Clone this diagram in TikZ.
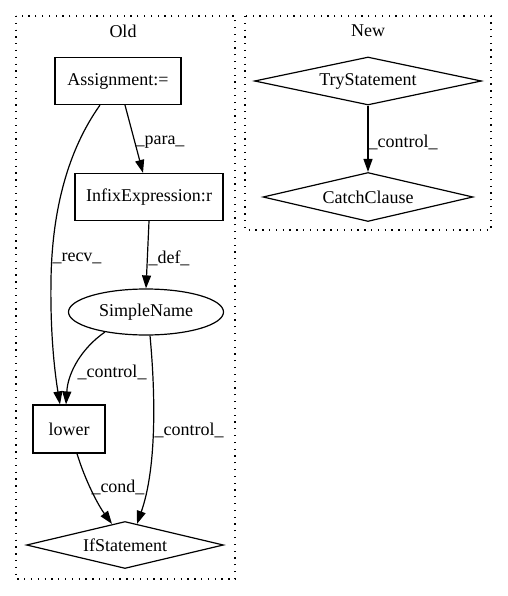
\documentclass[tikz,border=0pt]{standalone}
\usepackage{fontspec}
\setmainfont{Liberation Serif}
\usetikzlibrary{shapes.geometric,arrows.meta}
\begin{document}
\begin{tikzpicture}[x=1pt,y=-1pt,
  every node/.style={font=\fontsize{18}{20}\selectfont, inner sep=0pt},
  box/.style={draw, line width=1.2pt, rectangle, minimum height=47pt},
  dia/.style={draw, line width=1.2pt, diamond},
  ell/.style={draw, line width=1.2pt, ellipse},
  arr/.style={line width=1.2pt, -{Triangle[length=13pt,width=9pt]}},
  lbl/.style={fill=none},
  cluster/.style={line width=1.2pt, dash pattern=on 1.3pt off 5.5pt}
]
\useasboundingbox (0,0) rectangle (507,596);
\fill[white] (0,0) rectangle (507,596);
% clusters
\draw[cluster] (16,16) rectangle (235,579);
\draw[cluster] (245,16) rectangle (491,230);
\node (oldt) at (123,31) {Old};
\node (newt) at (368,31) {New};
% old nodes
\node[box, minimum width=126pt] (asg) at (118,81) {Assignment:=};
\node[box, minimum width=148pt] (inf) at (149,197) {InfixExpression:r};
\node[ell, minimum width=155pt, minimum height=46pt] (sn) at (146,312) {SimpleName};
\node[box, minimum width=72pt, minimum height=48pt] (low) at (69,429) {lower};
\node[dia, shape aspect=4.2, minimum width=197pt, minimum height=47pt] (ifs) at (125,545) {IfStatement};
% new nodes
\node[dia, shape aspect=4.7, minimum width=227pt, minimum height=48pt] (try) at (368,81) {TryStatement};
\node[dia, shape aspect=4.3, minimum width=210pt, minimum height=49pt] (cat) at (368,197) {CatchClause};
% edges old
\draw[arr] ([xshift=7pt]asg.south) -- ([xshift=-6pt]inf.north);
\node[lbl] (lpara) at (160,142) {\_para\_};
\draw[arr] ([xshift=-18pt]asg.south) .. controls (68,150) and (52,210) .. (51,280)
  .. controls (50,340) and (56,380) .. ([xshift=-9pt]low.north);
\node[lbl] (lrecv) at (77,258) {\_recv\_};
\draw[arr] (inf.south) -- (sn.north);
\node[lbl] (ldef) at (169,258) {\_def\_};
\draw[arr] (sn.206) .. controls (82,348) and (68,372) .. ([xshift=-3pt]low.north);
\node[lbl] (lctl1) at (112,372) {\_control\_};
\draw[arr] ([xshift=4pt]sn.south) .. controls (156,400) and (156,470) .. ([xshift=12pt,yshift=-3pt]ifs.north);
\node[lbl] (lctl2) at (189,430) {\_control\_};
\draw[arr] ([xshift=8pt]low.south) .. controls (85,480) and (98,505) .. ([xshift=-13pt,yshift=-3pt]ifs.north);
\node[lbl] (lcond) at (118,487) {\_cond\_};
% edges new
\draw[arr] (try.south) -- (cat.north);
\node[lbl] (lctl3) at (403,142) {\_control\_};
\end{tikzpicture}
\end{document}
